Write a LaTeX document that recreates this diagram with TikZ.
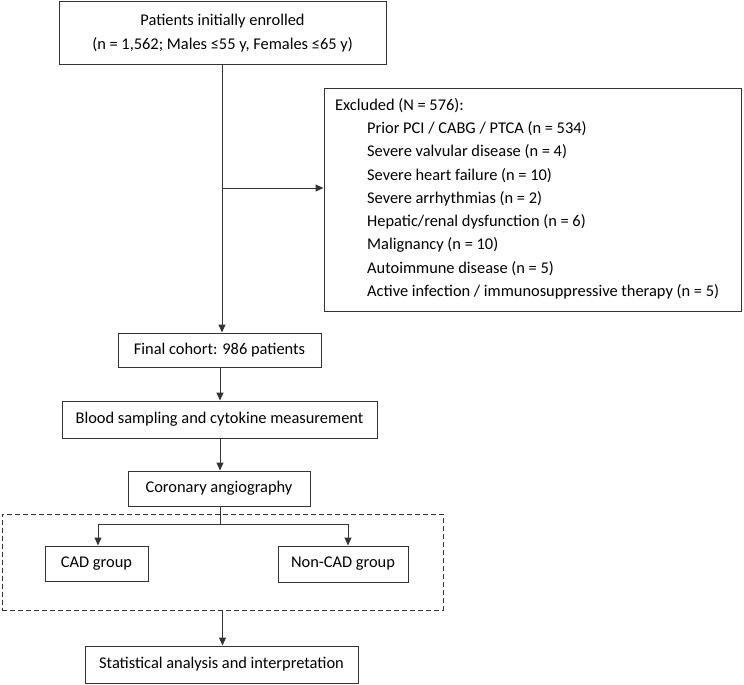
\documentclass[tikz,border=0pt]{standalone}
\usepackage{fontspec}
\setmainfont{Carlito}
\usetikzlibrary{arrows.meta}
\definecolor{lineg}{HTML}{333333}
\tikzset{
  box/.style={draw=lineg, line width=1pt, rectangle, inner sep=0pt, align=center, font=\fontsize{16.4}{24}\selectfont},
  dbox/.style={draw=lineg, line width=1pt, rectangle, inner sep=0pt, dash pattern=on 5pt off 3pt},
  conn/.style={draw=lineg, line width=1pt},
  arr/.style={conn, -{Triangle[length=8pt,width=7pt]}},
}
\begin{document}
\begin{tikzpicture}[x=1pt,y=-1pt]
\useasboundingbox (0,0) rectangle (744,685);
\node[box, minimum width=327pt, minimum height=63pt] (top) at (222.5,33.5)
  {Patients initially enrolled\\(n = 1,562; Males ≤55 y, Females ≤65 y)};
\node[box, minimum width=417pt, minimum height=223pt] (excl) at (532.5,199.5) {};
\node[align=left, anchor=north west, inner sep=0pt, font=\fontsize{16.4}{23.3}\selectfont] (exclt) at (335,98)
  {Excluded (N = 576):\\
  \hspace*{32pt}Prior PCI / CABG / PTCA (n = 534)\\
  \hspace*{32pt}Severe valvular disease (n = 4)\\
  \hspace*{32pt}Severe heart failure (n = 10)\\
  \hspace*{32pt}Severe arrhythmias (n = 2)\\
  \hspace*{32pt}Hepatic/renal dysfunction (n = 6)\\
  \hspace*{32pt}Malignancy (n = 10)\\
  \hspace*{32pt}Autoimmune disease (n = 5)\\
  \hspace*{32pt}Active infection / immunosuppressive therapy (n = 5)};
\node[box, minimum width=203pt, minimum height=34pt] (final) at (219.5,350) {Final cohort: 986 patients};
\node[box, minimum width=315pt, minimum height=37pt] (blood) at (219.5,419.5) {Blood sampling and cytokine measurement};
\node[box, minimum width=182pt, minimum height=35pt] (coro) at (219,488.5) {Coronary angiography};
\node[dbox, minimum width=441pt, minimum height=96pt] (grp) at (222.5,562) {};
\node[box, minimum width=103pt, minimum height=35pt] (cad) at (96.5,563.5) {CAD group};
\node[box, minimum width=130pt, minimum height=36pt] (ncad) at (343,564) {Non-CAD group};
\node[box, minimum width=273pt, minimum height=37pt] (stat) at (221.5,664.5) {Statistical analysis and interpretation};
\coordinate (spine) at (222,65);
\coordinate (br) at (222,188);
\coordinate (split) at (220,524);
\draw[arr] (spine) -- (spine |- final.north);
\draw[arr] (br) -- (excl.west |- br);
\draw[arr] (220,0 |- final.south) -- (220,0 |- blood.north);
\draw[arr] (blood.south -| split) -- (coro.north -| split);
\draw[conn] (coro.south -| split) -- (split);
\draw[arr] (split) -| (98,0 |- cad.north);
\draw[arr] (split) -| (348,0 |- ncad.north);
\draw[arr] (grp.south) -- (grp.south |- stat.north);
\end{tikzpicture}
\end{document}
